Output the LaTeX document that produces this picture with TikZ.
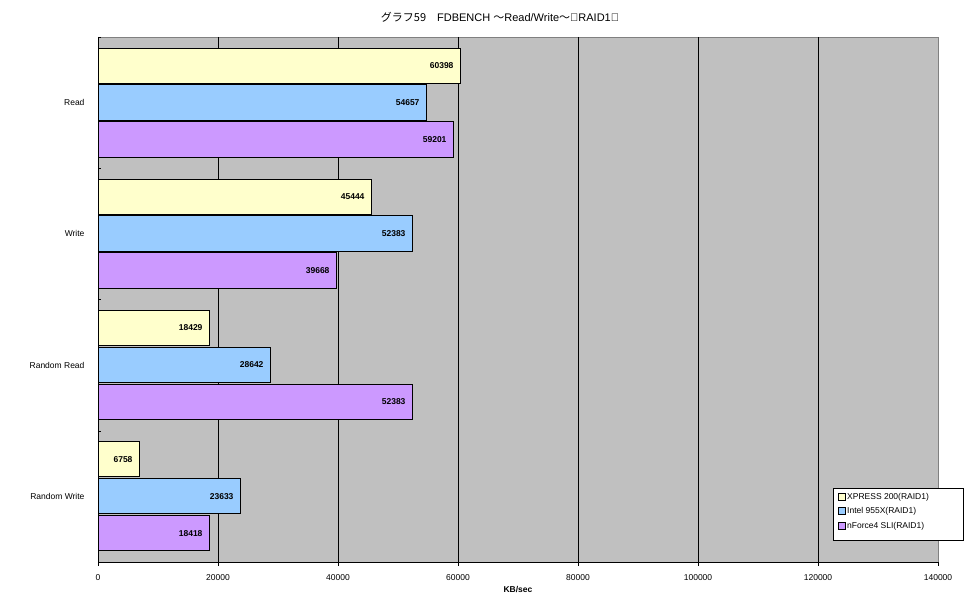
\documentclass[tikz,border=0pt]{standalone}
\usepackage{fontspec}
\setmainfont{Liberation Sans}
\newfontfamily\cjk{Noto Sans CJK JP}
\usetikzlibrary{positioning}
\definecolor{plotbg}{RGB}{192,192,192}
\definecolor{barA}{RGB}{255,255,204}
\definecolor{barB}{RGB}{153,204,255}
\definecolor{barC}{RGB}{204,153,255}
\begin{document}
\begin{tikzpicture}[x=1pt,y=-1pt,
    lbl/.style={font=\fontsize{8.5}{10}\selectfont},
    val/.style={font=\fontsize{8.5}{10}\selectfont\bfseries,anchor=east},
    bar/.style={draw=black,line width=0.6pt},
    grid/.style={draw=black,line width=0.6pt}
  ]
  \useasboundingbox (0,0) rectangle (970,604);
  % plot area
  \fill[plotbg] (98,37) rectangle (938,562);
  \draw[gray,line width=0.8pt] (98,37) -- (938,37) -- (938,562);
  \foreach \i in {1,...,6}
    \draw[grid] ({98+\i*120},37) -- ({98+\i*120},562);
  \draw[grid] (98,37) -- (98,562) -- (938,562);
  % ticks and axis labels
  \foreach \t [count=\i from 0] in {0,20000,40000,60000,80000,100000,120000,140000}{
    \draw (98+\i*120,562) -- (98+\i*120,566);
    \node[lbl] (t\i) at (98+\i*120,578) {\t};
  }
  \foreach \j in {0,...,4}
    \draw ({98},{37+\j*131.25}) -- ({101},{37+\j*131.25});
  \node[lbl,font=\fontsize{8.5}{10}\selectfont\bfseries] (xlab) at (518,590) {KB/sec};
  % bars
  \foreach \cat/\va/\vb/\vc [count=\j from 0] in
      {Read/60398/54657/59201, Write/45444/52383/39668,
       Random Read/18429/28642/52383, Random Write/6758/23633/18418}{
    \pgfmathsetmacro\yb{37+\j*131.25}
    \edef\xa{\the\numexpr(\va*6+98000)/1000\relax}
    \edef\xb{\the\numexpr(\vb*6+98000)/1000\relax}
    \edef\xc{\the\numexpr(\vc*6+98000)/1000\relax}
    \node[lbl,anchor=east] (c\j) at (88,\yb+65.5) {\cat};
    \draw[bar,fill=barA] (98,\yb+11) rectangle (\xa,\yb+46);
    \draw[bar,fill=barB] (98,\yb+47.5) rectangle (\xb,\yb+83);
    \draw[bar,fill=barC] (98,\yb+84.5) rectangle (\xc,\yb+120);
    \node[val] (a\j) at (\xa-3,\yb+28.5) {\va};
    \node[val] (b\j) at (\xb-3,\yb+65.5) {\vb};
    \node[val] (v\j) at (\xc-3,\yb+102.5) {\vc};
  }
  % title
  \node[font=\fontsize{11}{13}\selectfont] (title) at (500,17) {{\cjk グラフ59}\quad FDBENCH {\cjk ～}Read/Write{\cjk ～}（RAID1）};
  % legend
  \draw[fill=white] (833,488) rectangle (963,540);
  \foreach \c/\t [count=\k from 0] in {barA/XPRESS 200(RAID1), barB/Intel 955X(RAID1), barC/nForce4 SLI(RAID1)}{
    \draw[fill=\c] (838,{493+\k*14.5}) rectangle (845,{500+\k*14.5});
    \node[lbl,anchor=west,inner sep=1pt] (leg\k) at (846,{497+\k*14.5}) {\t};
  }
\end{tikzpicture}
\end{document}
